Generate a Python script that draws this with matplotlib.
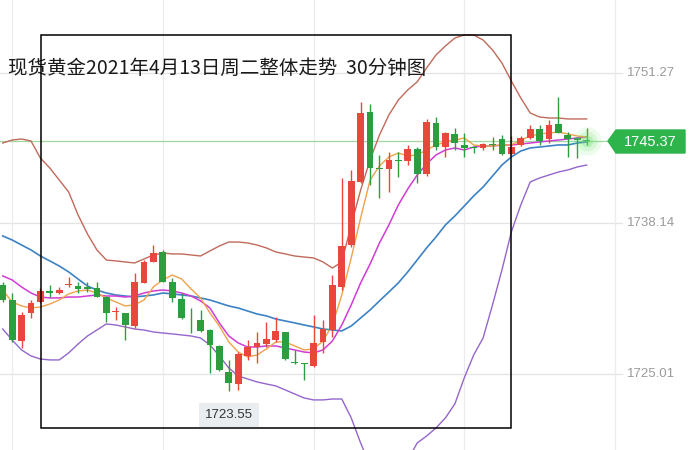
import matplotlib.pyplot as plt
import numpy as np
from matplotlib.patches import Rectangle, Polygon

plt.rcParams['font.family'] = ['Noto Sans CJK SC', 'DejaVu Sans']

title = '现货黄金2021年4月13日周二整体走势  30分钟图'

# 30 minute candles
opens = [1732.77, 1731.46, 1727.88, 1730.30, 1731.31, 1732.27, 1732.05, 1732.75, 1732.68, 1732.62,
         1732.48, 1731.75, 1730.40, 1730.30, 1729.19, 1732.97, 1734.80, 1735.62, 1733.06, 1731.52,
         1729.80, 1729.72, 1728.84, 1727.45, 1725.21, 1724.13, 1726.58, 1727.39, 1727.62, 1727.97,
         1728.64, 1726.03, 1725.90, 1725.70, 1727.82, 1728.84, 1732.57, 1736.26, 1741.78, 1747.89,
         1742.95, 1742.87, 1743.65, 1743.62, 1744.61, 1742.46, 1746.88, 1744.84, 1745.95, 1744.99,
         1744.72, 1744.70, 1745.00, 1745.48, 1744.20, 1744.99, 1745.57, 1746.38, 1745.48, 1746.82,
         1745.86, 1745.57, 1745.40]
highs = [1733.06, 1732.07, 1730.44, 1731.46, 1732.48, 1732.77, 1732.62, 1733.50, 1733.06, 1733.03,
         1733.06, 1731.81, 1730.88, 1730.30, 1733.79, 1734.95, 1736.26, 1735.82, 1733.36, 1732.10,
         1730.76, 1730.59, 1728.90, 1727.50, 1726.23, 1726.92, 1727.97, 1728.70, 1729.57, 1730.00,
         1728.70, 1727.10, 1725.95, 1730.15, 1729.72, 1733.64, 1742.11, 1742.81, 1748.77, 1748.56,
         1744.11, 1744.40, 1744.40, 1744.99, 1744.84, 1747.26, 1747.46, 1746.15, 1746.44, 1746.01,
         1744.90, 1745.15, 1745.71, 1745.86, 1745.77, 1745.77, 1746.73, 1746.73, 1747.17, 1749.20,
         1746.15, 1745.71, 1746.47]
lows = [1731.29, 1727.82, 1727.25, 1729.87, 1731.17, 1731.75, 1732.02, 1732.62, 1732.05, 1732.16,
        1731.75, 1729.57, 1729.72, 1727.97, 1728.99, 1732.95, 1734.78, 1733.00, 1731.31, 1729.80,
        1728.58, 1728.70, 1725.07, 1725.30, 1723.55, 1723.61, 1726.23, 1725.94, 1727.39, 1727.82,
        1726.23, 1725.88, 1724.48, 1725.65, 1726.81, 1728.26, 1732.33, 1736.11, 1741.70, 1741.50,
        1740.34, 1740.91, 1742.17, 1743.24, 1741.65, 1742.28, 1744.55, 1743.97, 1744.55, 1743.97,
        1744.26, 1744.55, 1744.55, 1744.11, 1744.11, 1744.90, 1745.55, 1744.99, 1745.14, 1746.00,
        1743.97, 1743.83, 1744.99]
closes = [1731.46, 1727.97, 1730.15, 1731.23, 1732.27, 1732.05, 1732.33, 1732.78, 1732.45, 1732.40,
          1731.75, 1730.30, 1730.44, 1729.28, 1733.01, 1734.80, 1735.59, 1733.06, 1731.61, 1729.87,
          1729.76, 1728.78, 1727.54, 1725.35, 1724.25, 1726.75, 1727.39, 1727.71, 1728.03, 1728.76,
          1726.29, 1725.99, 1725.88, 1727.71, 1728.90, 1732.77, 1736.17, 1741.87, 1747.81, 1742.95,
          1742.87, 1743.68, 1743.60, 1744.61, 1742.46, 1747.02, 1744.79, 1746.01, 1745.14, 1744.70,
          1744.70, 1745.05, 1744.99, 1744.20, 1744.84, 1745.57, 1746.36, 1745.36, 1746.73, 1746.06,
          1745.48, 1745.42, 1745.37]

ma5 = [1732.33, 1731.29, 1730.94, 1730.76, 1730.85, 1731.11, 1731.46, 1731.99, 1732.25, 1732.33,
       1732.07, 1731.64, 1731.29, 1730.94, 1731.03, 1731.46, 1732.60, 1733.21, 1733.64, 1733.29,
       1732.42, 1731.64, 1730.33, 1729.19, 1727.80, 1726.92, 1726.49, 1726.66, 1727.19, 1727.80,
       1727.80, 1727.45, 1727.10, 1727.19, 1727.88, 1729.28, 1731.90, 1735.13, 1738.62, 1741.93,
       1743.16, 1743.94, 1744.29, 1744.03, 1744.12, 1744.55, 1744.99, 1745.25, 1745.42, 1745.60,
       1744.99, 1744.90, 1744.90, 1744.99, 1744.99, 1745.42, 1745.77, 1745.95, 1746.03, 1746.12,
       1745.95, 1745.77, 1745.69]
ma10 = [1733.56, 1733.21, 1732.60, 1732.07, 1731.72, 1731.64, 1731.64, 1731.72, 1731.72, 1731.81,
        1731.90, 1731.81, 1731.81, 1731.72, 1731.81, 1732.07, 1732.25, 1732.33, 1732.25, 1732.07,
        1731.81, 1731.38, 1730.76, 1729.46, 1728.32, 1727.71, 1727.36, 1727.36, 1727.45, 1727.45,
        1727.27, 1727.10, 1726.92, 1726.84, 1727.10, 1727.88, 1729.28, 1731.03, 1732.95, 1734.60,
        1736.44, 1738.01, 1739.75, 1741.15, 1742.37, 1743.33, 1744.12, 1744.55, 1744.73, 1744.55,
        1744.81, 1744.90, 1744.90, 1744.99, 1744.99, 1745.07, 1745.16, 1745.25, 1745.34, 1745.42,
        1745.51, 1745.60, 1745.69]
boll_mid = [1737.05, 1736.70, 1736.26, 1735.83, 1735.30, 1734.87, 1734.43, 1733.91, 1733.29, 1732.68,
            1732.33, 1732.07, 1731.90, 1731.81, 1731.72, 1731.81, 1731.90, 1732.07, 1731.99, 1731.90,
            1731.81, 1731.64, 1731.46, 1731.20, 1730.94, 1730.76, 1730.50, 1730.24, 1730.07, 1729.80,
            1729.63, 1729.46, 1729.28, 1729.11, 1728.93, 1728.84, 1728.76, 1729.19, 1729.89, 1730.59,
            1731.38, 1732.16, 1732.95, 1733.91, 1734.95, 1736.00, 1736.96, 1738.01, 1738.79, 1739.66,
            1740.54, 1741.32, 1742.28, 1743.24, 1743.94, 1744.46, 1744.73, 1744.81, 1744.90, 1744.99,
            1744.99, 1745.16, 1745.25]
boll_up = [1745.16, 1745.42, 1745.51, 1745.34, 1743.85, 1742.98, 1741.93, 1740.89, 1738.88, 1737.22,
           1735.83, 1734.95, 1734.87, 1734.78, 1734.69, 1735.04, 1735.39, 1735.56, 1735.48, 1735.48,
           1735.39, 1735.30, 1735.74, 1736.17, 1736.52, 1736.52, 1736.44, 1736.26, 1736.00, 1735.65,
           1735.48, 1735.30, 1735.21, 1735.13, 1734.78, 1734.25, 1734.78, 1738.01, 1741.06, 1743.68,
           1745.86, 1747.61, 1748.91, 1749.79, 1750.49, 1751.71, 1752.84, 1753.63, 1754.32, 1754.59,
           1754.59, 1754.15, 1753.28, 1752.14, 1750.57, 1749.09, 1747.78, 1747.43, 1747.34, 1747.34,
           1747.26, 1747.26, 1747.26]
boll_dn = [1728.93, 1727.97, 1727.10, 1726.58, 1726.31, 1726.23, 1726.23, 1726.84, 1727.62, 1728.32,
           1728.84, 1729.37, 1729.28, 1729.11, 1728.93, 1728.84, 1728.67, 1728.58, 1728.50, 1728.41,
           1728.32, 1728.15, 1727.54, 1726.58, 1725.53, 1724.83, 1724.57, 1724.31, 1724.13, 1723.96,
           1723.61, 1723.26, 1722.91, 1722.74, 1722.74, 1722.82, 1722.82, 1721.17, 1718.98, 1717.06,
           1715.93, 1715.58, 1716.19, 1717.50, 1718.98, 1719.59, 1720.29, 1721.17, 1722.39, 1724.66,
           1726.66, 1728.15, 1731.03, 1734.08, 1737.40, 1739.75, 1741.76, 1742.11, 1742.37, 1742.63,
           1742.81, 1743.07, 1743.24]

axis_prices = [1751.27, 1738.14, 1725.01]
last_price = 1745.37
low_price = 1723.55
low_idx = 24
grid_idx = [1, 17, 33, 49, 65]

up_col = '#e8483c'
dn_col = '#2c9e3e'

fig = plt.figure(figsize=(6.89, 4.50), dpi=100)
ax = fig.add_axes([0, 0, 1, 1])
ax.set_xlim(-0.287, 72.86)
ax.set_ylim(1718.37, 1757.64)
ax.axis('off')

x = np.arange(len(opens))

# light grid
for p in axis_prices:
    ax.plot([-0.287, 65.8], [p, p], color='#e3e3e3', lw=0.9, zorder=0)
for g in grid_idx:
    ax.axvline(g, color='#ececec', lw=0.9, zorder=0)

# last price line
ax.plot([-0.287, 64.3], [last_price, last_price], color='#9fd89f', lw=0.9, zorder=1)

# indicator lines
ax.plot(x, boll_up, color='#c06a5a', lw=1.0, zorder=2)
ax.plot(x, boll_dn, color='#9466cc', lw=1.0, zorder=2)
ax.plot(x, boll_mid, color='#3d82c4', lw=1.2, zorder=2)
ax.plot(x, ma10, color='#d23cd6', lw=1.1, zorder=2)
ax.plot(x, ma5, color='#f0a24a', lw=1.0, zorder=2)

# candles
for i in range(len(opens)):
    o, h, l, c = opens[i], highs[i], lows[i], closes[i]
    col = up_col if c >= o else dn_col
    ax.vlines(i, l, h, color=col, lw=1.0, zorder=3)
    bot = min(o, c)
    hgt = max(abs(c - o), 0.07)
    ax.bar(i, hgt, bottom=bot, width=0.72, color=col, lw=0, zorder=4)

# glow on the last candle
for s, a in [(420, 0.12), (200, 0.18), (70, 0.3)]:
    ax.scatter(len(opens) - 1, last_price, s=s, color='#6fe06f', alpha=a, lw=0, zorder=5)

# right price labels
for p in axis_prices:
    ax.text(651 / 689, p, f'{p:.2f}', transform=ax.get_yaxis_transform(),
            ha='center', va='center', fontsize=9.5, color='#9a9a9a', family=['Liberation Sans'])

# last price tag
tag = Polygon([(608 / 689, 1 - 141 / 450), (616 / 689, 1 - 130 / 450), (685 / 689, 1 - 130 / 450),
               (685 / 689, 1 - 153 / 450), (616 / 689, 1 - 153 / 450)],
              closed=True, transform=fig.transFigure, color='#2db44a', zorder=6)
fig.patches.append(tag)
fig.text(650 / 689, 1 - 141.5 / 450, f'{last_price:.2f}', ha='center', va='center',
         fontsize=10.5, color='white', family=['Liberation Sans'], zorder=7)

# low label
ax.text(low_idx, 1 - 415 / 450, f'{low_price:.2f}', transform=ax.get_xaxis_transform(),
        ha='center', va='center', fontsize=9.5, color='#333333', family=['Liberation Sans'],
        bbox=dict(boxstyle='square,pad=0.45', fc='#e9edf0', ec='none'), zorder=6)

# black frame
fig.patches.append(Rectangle((41 / 689, 1 - 428 / 450), 470 / 689, 393 / 450, fill=False,
                             ec='black', lw=1.1, transform=fig.transFigure, zorder=8))

fig.text(8 / 689, 1 - 68 / 450, title, ha='left', va='center', fontsize=14, color='#1a1a1a')

fig.savefig('out.png', dpi=100)
